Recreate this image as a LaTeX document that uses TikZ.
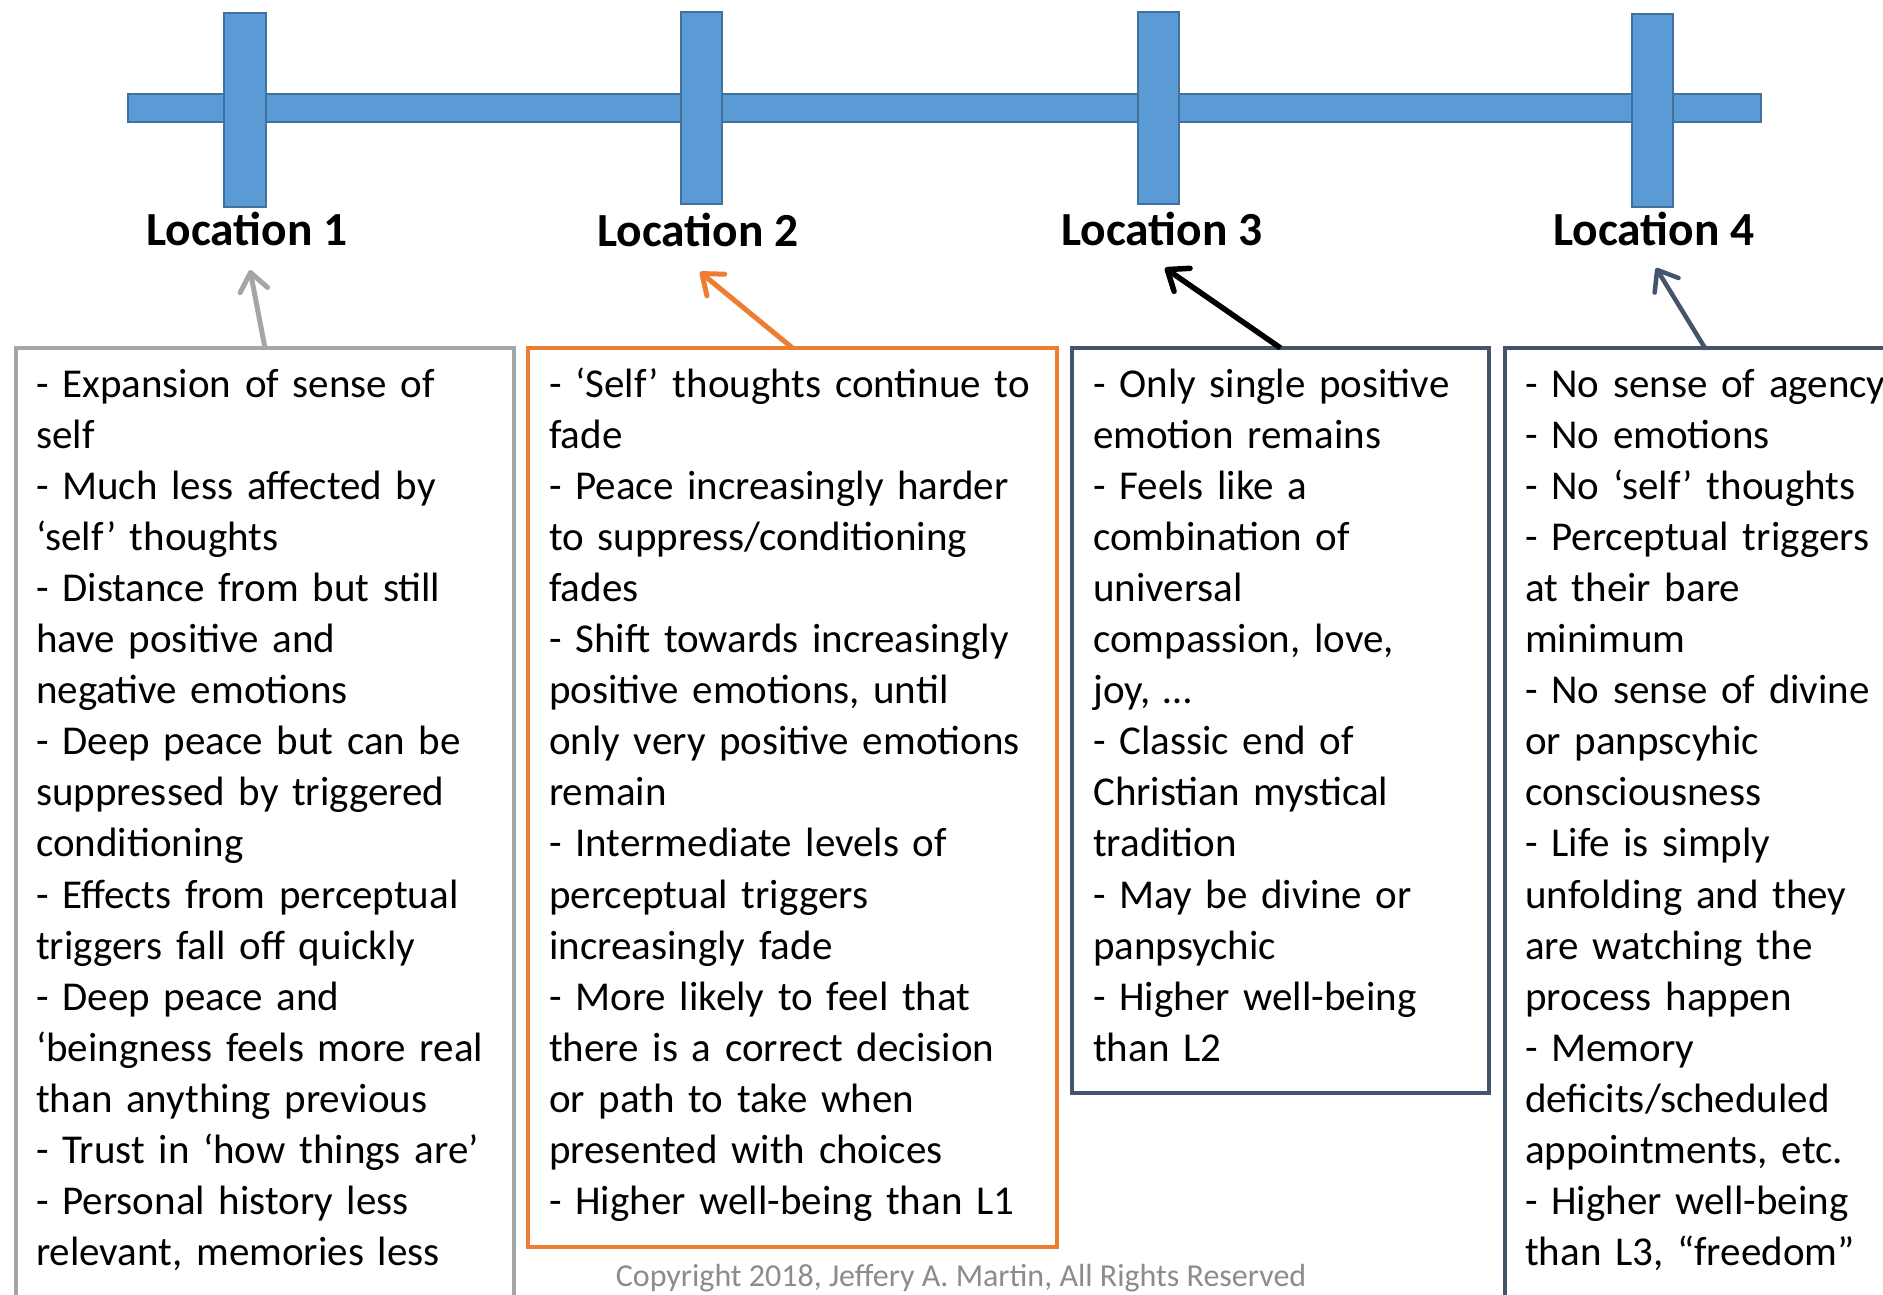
\documentclass[tikz,border=0pt]{standalone}
\usepackage{fontspec}
\setmainfont{Carlito}
\usetikzlibrary{arrows.meta}

\definecolor{barblue}{HTML}{5B9BD5}
\definecolor{barline}{HTML}{41719C}
\definecolor{boxgray}{HTML}{A5A5A5}
\definecolor{boxorange}{HTML}{ED7D31}
\definecolor{boxslate}{HTML}{44546A}
\definecolor{copygray}{HTML}{8C8C8C}

\begin{document}
\begin{tikzpicture}[x=1pt, y=-1pt, >={Straight Barb[length=18pt, width=28pt, round]},
    bar/.style={draw=barline, line width=1.5pt, fill=barblue},
    loclabel/.style={font=\fontsize{47.5}{56}\selectfont\bfseries, anchor=base, inner sep=0pt},
    notebox/.style={draw=#1, line width=4.5pt, anchor=north west, inner sep=0pt, outer sep=0pt},
    notes/.style={font=\fontsize{41}{51.1}\selectfont, anchor=base west, text width=600pt, align=left, inner sep=0pt},
    link/.style={->, line width=5pt, draw=#1}]

  \useasboundingbox (0,0) rectangle (1883,1294);
  \clip (0,0) rectangle (1883,1294);
  \fill[white] (0,0) rectangle (1883,1294);

  % timeline
  \draw[bar] (128,94) rectangle (1761,122);
  \draw[bar] (224,13) rectangle (266,207);
  \draw[bar] (681,12) rectangle (722,204);
  \draw[bar] (1138,12) rectangle (1179,204);
  \draw[bar] (1632,14) rectangle (1673,207);

  \node[loclabel] (loc1) at (247,245) {Location 1};
  \node[loclabel] (loc2) at (698,246) {Location 2};
  \node[loclabel] (loc3) at (1162,245) {Location 3};
  \node[loclabel] (loc4) at (1654,245) {Location 4};

  % boxes
  \node[notebox=boxgray, minimum width=498pt, minimum height=1000pt] (box1) at (16,348) {};
  \node[notebox=boxorange, minimum width=529pt, minimum height=899pt] (box2) at (528,348) {};
  \node[notebox=boxslate, minimum width=417pt, minimum height=745pt] (box3) at (1072,348) {};
  \node[notebox=boxslate, minimum width=400pt, minimum height=1000pt] (box4) at (1505,348) {};

  \node[notes] (txt1) at (36,397) {- Expansion of sense of\\
    self\\
    - Much less affected by\\
    ‘self’ thoughts\\
    - Distance from but still\\
    have positive and\\
    negative emotions\\
    - Deep peace but can be\\
    suppressed by triggered\\
    conditioning\\
    - Effects from perceptual\\
    triggers fall off quickly\\
    - Deep peace and\\
    ‘beingness feels more real\\
    than anything previous\\
    - Trust in ‘how things are’\\
    - Personal history less\\
    relevant, memories less};

  \node[notes] (txt2) at (549,397) {- ‘Self’ thoughts continue to\\
    fade\\
    - Peace increasingly harder\\
    to suppress/conditioning\\
    fades\\
    - Shift towards increasingly\\
    positive emotions, until\\
    only very positive emotions\\
    remain\\
    - Intermediate levels of\\
    perceptual triggers\\
    increasingly fade\\
    - More likely to feel that\\
    there is a correct decision\\
    or path to take when\\
    presented with choices\\
    - Higher well-being than L1};

  \node[notes] (txt3) at (1093,397) {- Only single positive\\
    emotion remains\\
    - Feels like a\\
    combination of\\
    universal\\
    compassion, love,\\
    joy, …\\
    - Classic end of\\
    Christian mystical\\
    tradition\\
    - May be divine or\\
    panpsychic\\
    - Higher well-being\\
    than L2};

  \node[notes] (txt4) at (1525,397) {- No sense of agency\\
    - No emotions\\
    - No ‘self’ thoughts\\
    - Perceptual triggers\\
    at their bare\\
    minimum\\
    - No sense of divine\\
    or panpscyhic\\
    consciousness\\
    - Life is simply\\
    unfolding and they\\
    are watching the\\
    process happen\\
    - Memory\\
    deficits/scheduled\\
    appointments, etc.\\
    - Higher well-being\\
    than L3, “freedom”};

  \node[font=\fontsize{32}{38}\selectfont, text=copygray, anchor=base, inner sep=0pt] (copy) at (961,1286) {Copyright 2018, Jeffery A. Martin, All Rights Reserved};

  % arrows up to the labels
  \coordinate (tip1) at (250,270);
  \coordinate (tip2) at (700,272);
  \coordinate (tip3) at (1165,268);
  \coordinate (tip4) at (1656,268);
  \draw[link=boxgray] (box1.north) -- (tip1);
  \draw[link=boxorange] (box2.north) -- (tip2);
  \draw[link=black, line width=5.5pt] (box3.north) -- (tip3);
  \draw[link=boxslate, line width=4.5pt] (box4.north) -- (tip4);
\end{tikzpicture}
\end{document}
